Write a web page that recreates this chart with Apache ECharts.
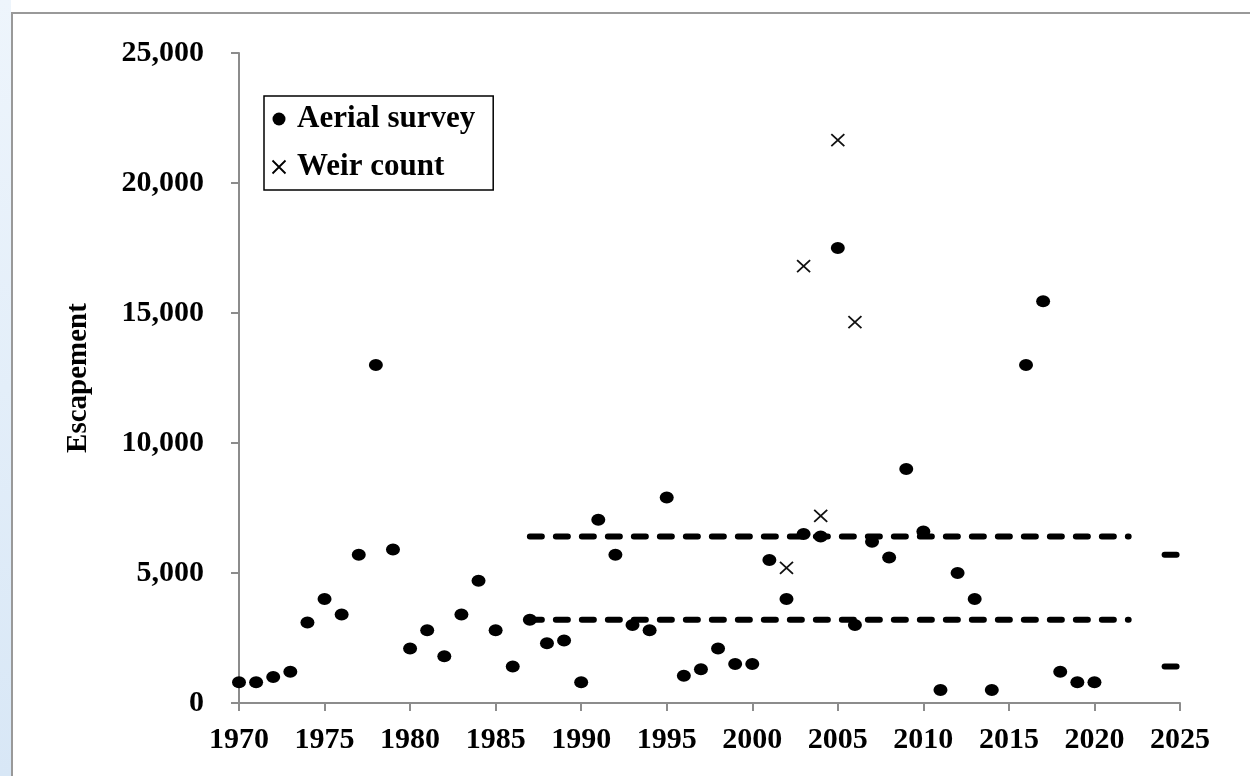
<!DOCTYPE html>
<html>
<head>
<meta charset="utf-8">
<script src="https://cdn.jsdelivr.net/npm/echarts@6/dist/echarts.min.js"></script>
<style>
html, body { margin: 0; padding: 0; background: #fff; }
#chart { width: 1250px; height: 776px; }
</style>
</head>
<body>
<div id="chart"></div>
<script>
// aerial survey counts by year (no survey in 2015)
var aerialYears = [1970, 1971, 1972, 1973, 1974, 1975, 1976, 1977, 1978, 1979,
    1980, 1981, 1982, 1983, 1984, 1985, 1986, 1987, 1988, 1989,
    1990, 1991, 1992, 1993, 1994, 1995, 1996, 1997, 1998, 1999,
    2000, 2001, 2002, 2003, 2004, 2005, 2006, 2007, 2008, 2009,
    2010, 2011, 2012, 2013, 2014, 2016, 2017, 2018, 2019, 2020];
var aerialCounts = [800, 800, 1000, 1200, 3100, 4000, 3400, 5700, 13000, 5900,
    2100, 2800, 1800, 3400, 4700, 2800, 1400, 3200, 2300, 2400,
    800, 7050, 5700, 3000, 2800, 7900, 1050, 1300, 2100, 1500,
    1500, 5500, 4000, 6500, 6400, 17500, 3000, 6200, 5600, 9000,
    6600, 500, 5000, 4000, 500, 13000, 15450, 1200, 800, 800];

// weir counts
var weirYears = [2002, 2003, 2004, 2005, 2006];
var weirCounts = [5200, 16800, 7200, 21650, 14650];

// escapement goal range (dashed) and new goal marks
var goalYears = [1987, 2022];
var goalLower = 3200;
var goalUpper = 6400;
var newGoalYears = [2024.1, 2024.8];
var newGoalLower = 1400;
var newGoalUpper = 5700;

var xMin = 1970, xMax = 2025, xStep = 5;
var yMin = 0, yMax = 25000, yStep = 5000;

var serif = '"Liberation Serif", "Times New Roman", serif';
var crossPath = 'path://M0,0L10,10M10,0L0,10';

function pairs(xs, ys) {
    var out = [];
    for (var i = 0; i < xs.length; i++) {
        out.push([xs[i], ys[i]]);
    }
    return out;
}
function flat(xs, v) {
    var out = [];
    for (var i = 0; i < xs.length; i++) {
        out.push([xs[i], v]);
    }
    return out;
}

var chart = echarts.init(document.getElementById('chart'));

var dashStyle = { color: '#000', width: 6, type: [12, 14], cap: 'round' };
var solidStyle = { color: '#000', width: 6, type: 'solid', cap: 'round' };

var option = {
    backgroundColor: '#fff',
    animation: false,
    graphic: [
        {
            type: 'rect', left: 0, top: 0, z: -10,
            shape: { width: 11, height: 776 },
            style: {
                fill: new echarts.graphic.LinearGradient(0, 0, 0, 1, [
                    { offset: 0, color: '#eef5fc' },
                    { offset: 1, color: '#d8e7f6' }
                ])
            }
        },
        {
            type: 'rect', left: 11, top: 12, z: -10,
            shape: { width: 1260, height: 800 },
            style: { fill: '#fff', stroke: '#999', lineWidth: 2 }
        }
    ],
    grid: {
        left: 239, right: 70, top: 53, bottom: 73,
        outerBoundsMode: 'none'
    },
    legend: {
        orient: 'vertical',
        left: 264,
        top: 96,
        padding: [7, 18, 7, 6],
        itemGap: 16,
        itemWidth: 26,
        itemHeight: 13,
        borderColor: '#000',
        borderWidth: 1.5,
        backgroundColor: '#fff',
        textStyle: { fontFamily: serif, fontWeight: 'bold', fontSize: 31, color: '#000', lineHeight: 32 },
        data: [
            { name: 'Aerial survey', icon: 'circle', itemStyle: { color: '#000', opacity: 1 } },
            { name: 'Weir count', icon: crossPath,
              itemStyle: { color: 'none', borderColor: '#000', borderWidth: 1.8, opacity: 1 } }
        ]
    },
    xAxis: {
        type: 'value',
        min: xMin, max: xMax, interval: xStep,
        splitLine: { show: false },
        axisLine: { lineStyle: { color: '#8c8c8c', width: 2 } },
        axisTick: { show: true, inside: false, length: 8, lineStyle: { color: '#8c8c8c', width: 2 } },
        axisLabel: {
            margin: 22,
            fontFamily: serif, fontWeight: 'bold', fontSize: 30, color: '#000',
            formatter: function (v) { return String(v); }
        }
    },
    yAxis: {
        type: 'value',
        min: yMin, max: yMax, interval: yStep,
        name: 'Escapement',
        nameLocation: 'middle',
        nameGap: 146,
        nameRotate: 90,
        nameTextStyle: { fontFamily: serif, fontWeight: 'bold', fontSize: 29, color: '#000' },
        splitLine: { show: false },
        axisLine: { show: true, lineStyle: { color: '#8c8c8c', width: 2 } },
        axisTick: { show: true, inside: false, length: 8, lineStyle: { color: '#8c8c8c', width: 2 } },
        axisLabel: {
            margin: 35,
            fontFamily: serif, fontWeight: 'bold', fontSize: 30, color: '#000',
            formatter: function (v) { return v.toLocaleString('en-US'); }
        }
    },
    series: [
        {
            name: 'upper', type: 'line', data: flat(goalYears, goalUpper),
            symbol: 'none', lineStyle: dashStyle, z: 3, silent: true
        },
        {
            name: 'lower', type: 'line', data: flat(goalYears, goalLower),
            symbol: 'none', lineStyle: dashStyle, z: 3, silent: true
        },
        {
            name: 'newUpper', type: 'line', data: flat(newGoalYears, newGoalUpper),
            symbol: 'none', lineStyle: solidStyle, z: 3, silent: true
        },
        {
            name: 'newLower', type: 'line', data: flat(newGoalYears, newGoalLower),
            symbol: 'none', lineStyle: solidStyle, z: 3, silent: true
        },
        {
            name: 'Aerial survey', type: 'scatter',
            data: pairs(aerialYears, aerialCounts),
            symbol: 'circle', symbolSize: [14, 12],
            itemStyle: { color: '#000', opacity: 1 }, z: 4
        },
        {
            name: 'Weir count', type: 'scatter',
            data: pairs(weirYears, weirCounts),
            symbol: crossPath, symbolSize: [13, 12],
            itemStyle: { color: 'none', borderColor: '#111', borderWidth: 1.7, opacity: 1 }, z: 4
        }
    ]
};

chart.setOption(option);
window.addEventListener('resize', chart.resize);
</script>
</body>
</html>
